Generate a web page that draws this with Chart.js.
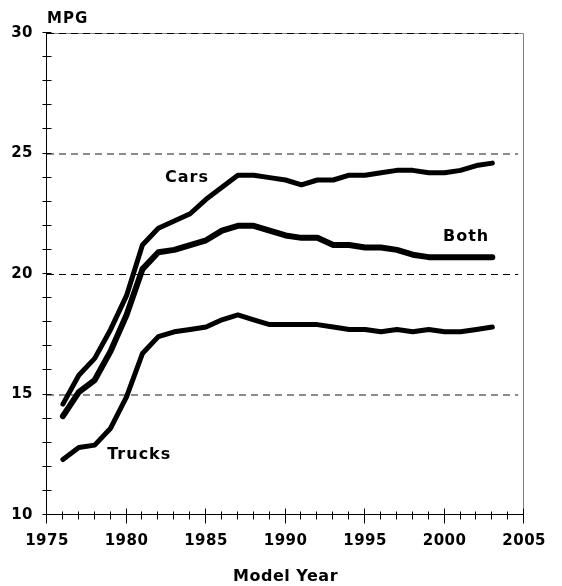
<!DOCTYPE html>
<html>
<head>
<meta charset="utf-8">
<script src="https://cdn.jsdelivr.net/npm/chart.js@4.4.1/dist/chart.umd.min.js"></script>
<style>
  body { margin: 0; background: #fff; }
  #wrap { width: 562px; height: 586px; }
</style>
</head>
<body>
<div id="wrap"><canvas id="mpgChart" width="562" height="586"></canvas></div>
<script>
// model years and fuel economy (MPG)
const years = [1976, 1977, 1978, 1979, 1980, 1981, 1982, 1983, 1984, 1985, 1986, 1987, 1988, 1989,
  1990, 1991, 1992, 1993, 1994, 1995, 1996, 1997, 1998, 1999, 2000, 2001, 2002, 2003];
const cars = [14.6, 15.8, 16.5, 17.7, 19.1, 21.2, 21.9, 22.2, 22.5, 23.1, 23.6, 24.1, 24.1, 24.0,
  23.9, 23.7, 23.9, 23.9, 24.1, 24.1, 24.2, 24.3, 24.3, 24.2, 24.2, 24.3, 24.5, 24.6];
const both = [14.1, 15.1, 15.6, 16.8, 18.3, 20.2, 20.9, 21.0, 21.2, 21.4, 21.8, 22.0, 22.0, 21.8,
  21.6, 21.5, 21.5, 21.2, 21.2, 21.1, 21.1, 21.0, 20.8, 20.7, 20.7, 20.7, 20.7, 20.7];
const trucks = [12.3, 12.8, 12.9, 13.6, 14.9, 16.7, 17.4, 17.6, 17.7, 17.8, 18.1, 18.3, 18.1, 17.9,
  17.9, 17.9, 17.9, 17.8, 17.7, 17.7, 17.6, 17.7, 17.6, 17.7, 17.6, 17.6, 17.7, 17.8];

// series names written on the plot, anchored in data units
const seriesNames = ["Cars", "Both", "Trucks"];
const nameYears = [1983.8, 2001.35, 1980.8];
const nameValues = [24.0, 21.55, 12.48];

const gridValues = [15, 20, 25, 30];
const FONT = "'DejaVu Sans', Arial, sans-serif";

function toPoints(values) {
  return values.map((v, i) => ({ x: years[i], y: v }));
}

function lineSet(label, values, width) {
  return {
    label: label,
    data: toPoints(values),
    borderColor: "#000",
    borderWidth: width,
    borderCapStyle: "round",
    borderJoinStyle: "round",
    pointRadius: 0,
    tension: 0,
    fill: false,
  };
}

// dashed grid, box, axes and year / MPG ticks
const framePlugin = {
  id: "frame",
  beforeDatasetsDraw(chart) {
    const ctx = chart.ctx;
    const a = chart.chartArea;
    const xs = chart.scales.x;
    const ys = chart.scales.y;
    ctx.save();

    // gray box on top and right
    ctx.strokeStyle = "#808080";
    ctx.lineWidth = 1;
    ctx.beginPath();
    ctx.moveTo(a.left, Math.round(a.top) + 0.5);
    ctx.lineTo(Math.round(a.right) - 0.5, Math.round(a.top) + 0.5);
    ctx.lineTo(Math.round(a.right) - 0.5, a.bottom);
    ctx.stroke();

    // dashed grid lines
    ctx.setLineDash([7, 5]);
    gridValues.forEach((v) => {
      const y = ys.getPixelForValue(v);
      ctx.beginPath();
      if (v === 20 || v === 30) {
        ctx.strokeStyle = "#000";
        ctx.lineWidth = 1;
        ctx.moveTo(a.left, Math.round(y) + 0.5);
        ctx.lineTo(a.right - 6, Math.round(y) + 0.5);
      } else {
        ctx.strokeStyle = "#8c8c8c";
        ctx.lineWidth = 2;
        ctx.moveTo(a.left, Math.round(y));
        ctx.lineTo(a.right - 6, Math.round(y));
      }
      ctx.stroke();
    });
    ctx.setLineDash([]);

    // axes
    const x0 = Math.round(a.left) - 0.5;
    const y0 = Math.round(a.bottom) - 0.5;
    ctx.strokeStyle = "#000";
    ctx.lineWidth = 1;
    ctx.beginPath();
    ctx.moveTo(x0, a.top);
    ctx.lineTo(x0, y0);
    ctx.lineTo(Math.round(a.right), y0);
    ctx.stroke();

    // year ticks, longer every 5 years
    ctx.beginPath();
    for (let yr = xs.min; yr <= xs.max; yr++) {
      const x = Math.round(xs.getPixelForValue(yr)) - 0.5;
      const major = yr % 5 === 0;
      ctx.moveTo(x, y0 - (major ? 6 : 3));
      ctx.lineTo(x, y0 + (major ? 9 : 5));
    }
    // MPG ticks every 1
    for (let v = ys.min; v <= ys.max; v++) {
      const y = Math.round(ys.getPixelForValue(v)) - 0.5;
      ctx.moveTo(x0 - 4, y);
      ctx.lineTo(x0 + 5, y);
    }
    ctx.stroke();
    ctx.restore();
  },
  afterDatasetsDraw(chart) {
    const ctx = chart.ctx;
    const a = chart.chartArea;
    ctx.save();
    ctx.fillStyle = "#000";
    ctx.font = "bold 16px " + FONT;
    ctx.letterSpacing = "1px";
    ctx.textAlign = "center";
    ctx.textBaseline = "middle";
    seriesNames.forEach((name, i) => {
      ctx.fillText(name,
        chart.scales.x.getPixelForValue(nameYears[i]),
        chart.scales.y.getPixelForValue(nameValues[i]));
    });
    ctx.font = "bold 15px " + FONT;
    ctx.textAlign = "left";
    ctx.fillText("MPG", a.left, a.top - 14);
    ctx.restore();
  },
};

// slightly wider letters for axis text
const textSpacing = {
  id: "textSpacing",
  beforeDraw(chart) {
    chart.ctx.letterSpacing = "0.5px";
  },
};

const mpgChart = new Chart(document.getElementById("mpgChart"), {
  type: "line",
  data: {
    datasets: [
      lineSet("Cars", cars, 5),
      lineSet("Both", both, 6),
      lineSet("Trucks", trucks, 5),
    ],
  },
  options: {
    responsive: false,
    animation: false,
    layout: { padding: { top: 33, right: 24, left: 0, bottom: 0 } },
    plugins: {
      legend: { display: false },
      tooltip: { enabled: false },
    },
    scales: {
      x: {
        type: "linear",
        min: 1975,
        max: 2005,
        grid: { display: false, drawTicks: false },
        border: { display: false },
        ticks: {
          stepSize: 5,
          autoSkip: false,
          maxRotation: 0,
          padding: 17,
          color: "#000",
          font: { family: FONT, size: 15, weight: "bold" },
          callback: (v) => String(v),
        },
        title: {
          display: true,
          text: "Model Year",
          color: "#000",
          padding: { top: 0, bottom: 0 },
          font: { family: FONT, size: 16, weight: "bold" },
        },
        afterFit(scale) {
          scale.height = 71;
        },
      },
      y: {
        min: 10,
        max: 30,
        grid: { display: false, drawTicks: false },
        border: { display: false },
        ticks: {
          stepSize: 5,
          padding: 14,
          color: "#000",
          font: { family: FONT, size: 15, weight: "bold" },
        },
        afterFit(scale) {
          scale.width = 47;
        },
      },
    },
  },
  plugins: [textSpacing, framePlugin],
});
</script>
</body>
</html>
